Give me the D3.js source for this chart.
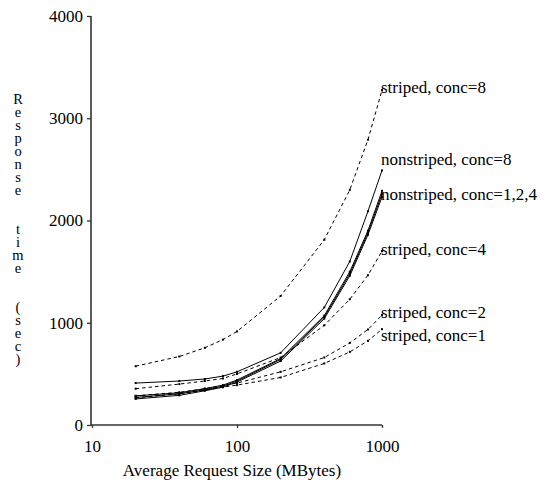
<!DOCTYPE html>
<html><head><meta charset="utf-8">
<script src="https://cdn.jsdelivr.net/npm/d3@7"></script>
<style>
html,body{margin:0;padding:0;background:#fff;}
svg text{font-family:"Liberation Serif","Times New Roman",serif;fill:#000;}
</style></head>
<body>
<svg id="chart" width="547" height="483"></svg>
<script>
// ---- data ----
const requestSizes = [20, 40, 60, 80, 100, 200, 400, 600, 800, 1000];
const striped8     = [575, 670, 755, 835, 915, 1262, 1812, 2300, 2790, 3275];
const nonstriped8  = [410, 430, 450, 478, 520, 706, 1150, 1600, 2090, 2490];
const nonstriped4  = [285, 315, 355, 390, 440, 650, 1070, 1500, 1900, 2290];
const nonstriped2  = [270, 305, 345, 380, 430, 640, 1055, 1480, 1880, 2260];
const nonstriped1  = [255, 290, 335, 370, 420, 625, 1040, 1460, 1860, 2230];
const striped4     = [355, 400, 430, 455, 500, 660, 975, 1230, 1465, 1700];
const striped2     = [285, 320, 355, 385, 410, 520, 660, 803, 934, 1075];
const striped1     = [265, 305, 340, 370, 390, 465, 602, 715, 823, 937];
const xTicks = [10, 100, 1000];
const yTicks = [0, 1000, 2000, 3000, 4000];
const seriesNames = ["striped, conc=8", "nonstriped, conc=8", "nonstriped, conc=1,2,4", "striped, conc=4", "striped, conc=2", "striped, conc=1"];
const xTitle = "Average Request Size (MBytes)";
const yTitle = "Response  time  (sec)";

// ---- drawing ----
const svg = d3.select("#chart");
const x = d3.scaleLog().domain([10, 1000]).range([92, 382]);
const y = d3.scaleLinear().domain([0, 4000]).range([425, 16]);

const series = [
  {v: striped8, dashed: true},
  {v: nonstriped8, dashed: false},
  {v: nonstriped4, dashed: false},
  {v: nonstriped2, dashed: false},
  {v: nonstriped1, dashed: false},
  {v: striped4, dashed: true},
  {v: striped2, dashed: true},
  {v: striped1, dashed: true}
];
const line = d3.line().x((d, i) => x(requestSizes[i])).y(d => y(d));
series.forEach(s => {
  svg.append("path").attr("d", line(s.v)).attr("fill", "none")
    .attr("stroke", "#000").attr("stroke-width", 1)
    .attr("stroke-dasharray", s.dashed ? "3.5,3" : null);
  svg.append("g").selectAll("rect").data(s.v).join("rect")
    .attr("x", (d, i) => x(requestSizes[i]) - 1)
    .attr("y", d => y(d) - 1)
    .attr("width", 2).attr("height", 2).attr("fill", "#000");
});

// axes
const yAxis = svg.append("g").attr("transform", "translate(91,0)")
  .call(d3.axisLeft(y).tickValues(yTicks).tickSize(4).tickSizeOuter(0).tickPadding(4).tickFormat(d3.format("d")));
const xAxis = svg.append("g").attr("transform", "translate(0,425)")
  .call(d3.axisBottom(x).tickValues(xTicks).tickSize(3).tickSizeOuter(0).tickPadding(12).tickFormat(d3.format("d")));
[yAxis, xAxis].forEach(a => {
  a.attr("font-family", null);
  a.select(".domain").attr("stroke", "#333").attr("stroke-width", 1.6);
  a.selectAll(".tick line").attr("stroke", "#333").attr("stroke-width", 1.3);
  a.selectAll("text").attr("font-size", 17).attr("fill", "#000");
});
yAxis.select(".domain").attr("d", "M0," + y(4000) + "V" + (y(0) + 0.8));
xAxis.select(".domain").attr("d", "M" + (x(10) - 1) + ",0H" + x(1000));

// series labels at line ends
const labelEnds = [striped8[9], nonstriped8[9], nonstriped4[9], striped4[9], striped2[9], striped1[9]];
const labelDy = [3, -5, 9, 4, 3, 12];
seriesNames.forEach((n, i) => {
  svg.append("text").attr("x", x(1000) - 1).attr("y", y(labelEnds[i]) + labelDy[i])
    .attr("font-size", 17).text(n);
});

// x title
svg.append("text").attr("x", 232).attr("y", 476).attr("text-anchor", "middle")
  .attr("font-size", 17).text(xTitle);

// y title, stacked letters (one per line)
const yt = svg.append("text").attr("font-size", 14.5).attr("text-anchor", "middle");
yTitle.split("").forEach((c, i) => {
  if (c === " ") return;
  yt.append("tspan").attr("x", 18).attr("y", 104 + i * 13).text(c);
});
</script>
</body></html>
